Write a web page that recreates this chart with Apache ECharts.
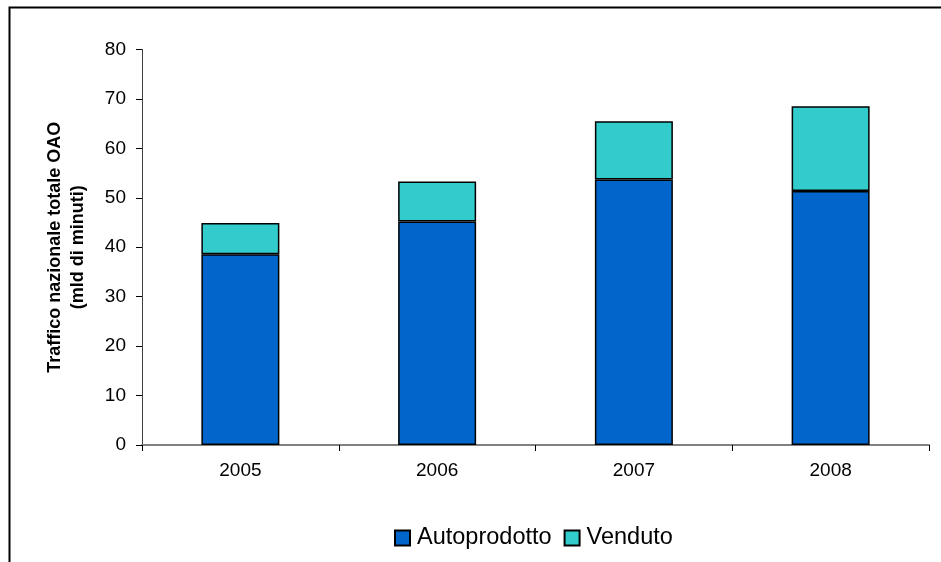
<!DOCTYPE html>
<html>
<head>
<meta charset="utf-8">
<title>Traffico nazionale totale OAO</title>
<script src="https://cdn.jsdelivr.net/npm/echarts@6/dist/echarts.min.js"></script>
<style>
    html, body { margin: 0; padding: 0; background: #fff; }
    #traffic_chart { width: 941px; height: 562px; }
</style>
</head>
<body>
<div id="traffic_chart"></div>
<script>

// Data
// ------------------------------

var years = ['2005', '2006', '2007', '2008'];
var autoprodotto = [38.6, 45.2, 53.7, 51.4];
var venduto = [6.3, 8.1, 11.8, 17.1];
var seriesNames = ['Autoprodotto', 'Venduto'];


// Chart
// ------------------------------

var chart_element = document.getElementById('traffic_chart');
var chart = echarts.init(chart_element, null, { renderer: 'canvas' });

var fontFamily = '"Liberation Sans", Arial, sans-serif';

var options = {
    animation: false,
    backgroundColor: '#fff',
    textStyle: {
        fontFamily: fontFamily,
        color: '#000'
    },

    // Outer frame (cropped on right and bottom like the original)
    graphic: [{
        type: 'rect',
        left: 7,
        top: 5,
        shape: { width: 1000, height: 1000 },
        style: { fill: 'none', stroke: '#000', lineWidth: 2 },
        silent: true
    }],

    grid: {
        left: 142,
        right: 12,
        top: 49.5,
        bottom: 117,
        containLabel: false
    },

    legend: {
        left: 389,
        top: 521,
        itemWidth: 15,
        itemHeight: 15,
        itemGap: 12,
        icon: 'rect',
        data: seriesNames,
        textStyle: {
            fontFamily: fontFamily,
            fontSize: 23.5,
            color: '#000',
            padding: [0, 0, 0, 2]
        }
    },

    xAxis: {
        type: 'category',
        data: years,
        boundaryGap: true,
        axisLine: { lineStyle: { color: '#808080', width: 2 } },
        axisTick: {
            show: true,
            length: 6,
            lineStyle: { color: '#000', width: 1 }
        },
        axisLabel: {
            fontSize: 19,
            margin: 16,
            color: '#000',
            fontFamily: fontFamily
        }
    },

    yAxis: {
        type: 'value',
        min: 0,
        max: 80,
        interval: 10,
        name: 'Traffico nazionale totale OAO\n(mld di minuti)',
        nameLocation: 'middle',
        nameRotate: 90,
        nameGap: 52,
        nameTextStyle: {
            fontFamily: fontFamily,
            fontSize: 18,
            fontWeight: 'bold',
            lineHeight: 23,
            color: '#000',
            align: 'center'
        },
        axisLine: { show: true, lineStyle: { color: '#404040', width: 1 } },
        axisTick: {
            show: true,
            length: 6,
            lineStyle: { color: '#000', width: 1 }
        },
        splitLine: { show: false },
        axisLabel: {
            fontSize: 19,
            margin: 16,
            color: '#000',
            fontFamily: fontFamily
        }
    },

    series: [
        {
            name: seriesNames[0],
            type: 'bar',
            stack: 'total',
            barWidth: 78,
            data: autoprodotto,
            itemStyle: { color: '#0066CC', borderColor: '#000', borderWidth: 1.5 }
        },
        {
            name: seriesNames[1],
            type: 'bar',
            stack: 'total',
            barWidth: 78,
            data: venduto,
            itemStyle: { color: '#33CCCC', borderColor: '#000', borderWidth: 1.5 }
        }
    ]
};

chart.setOption(options);

</script>
</body>
</html>
